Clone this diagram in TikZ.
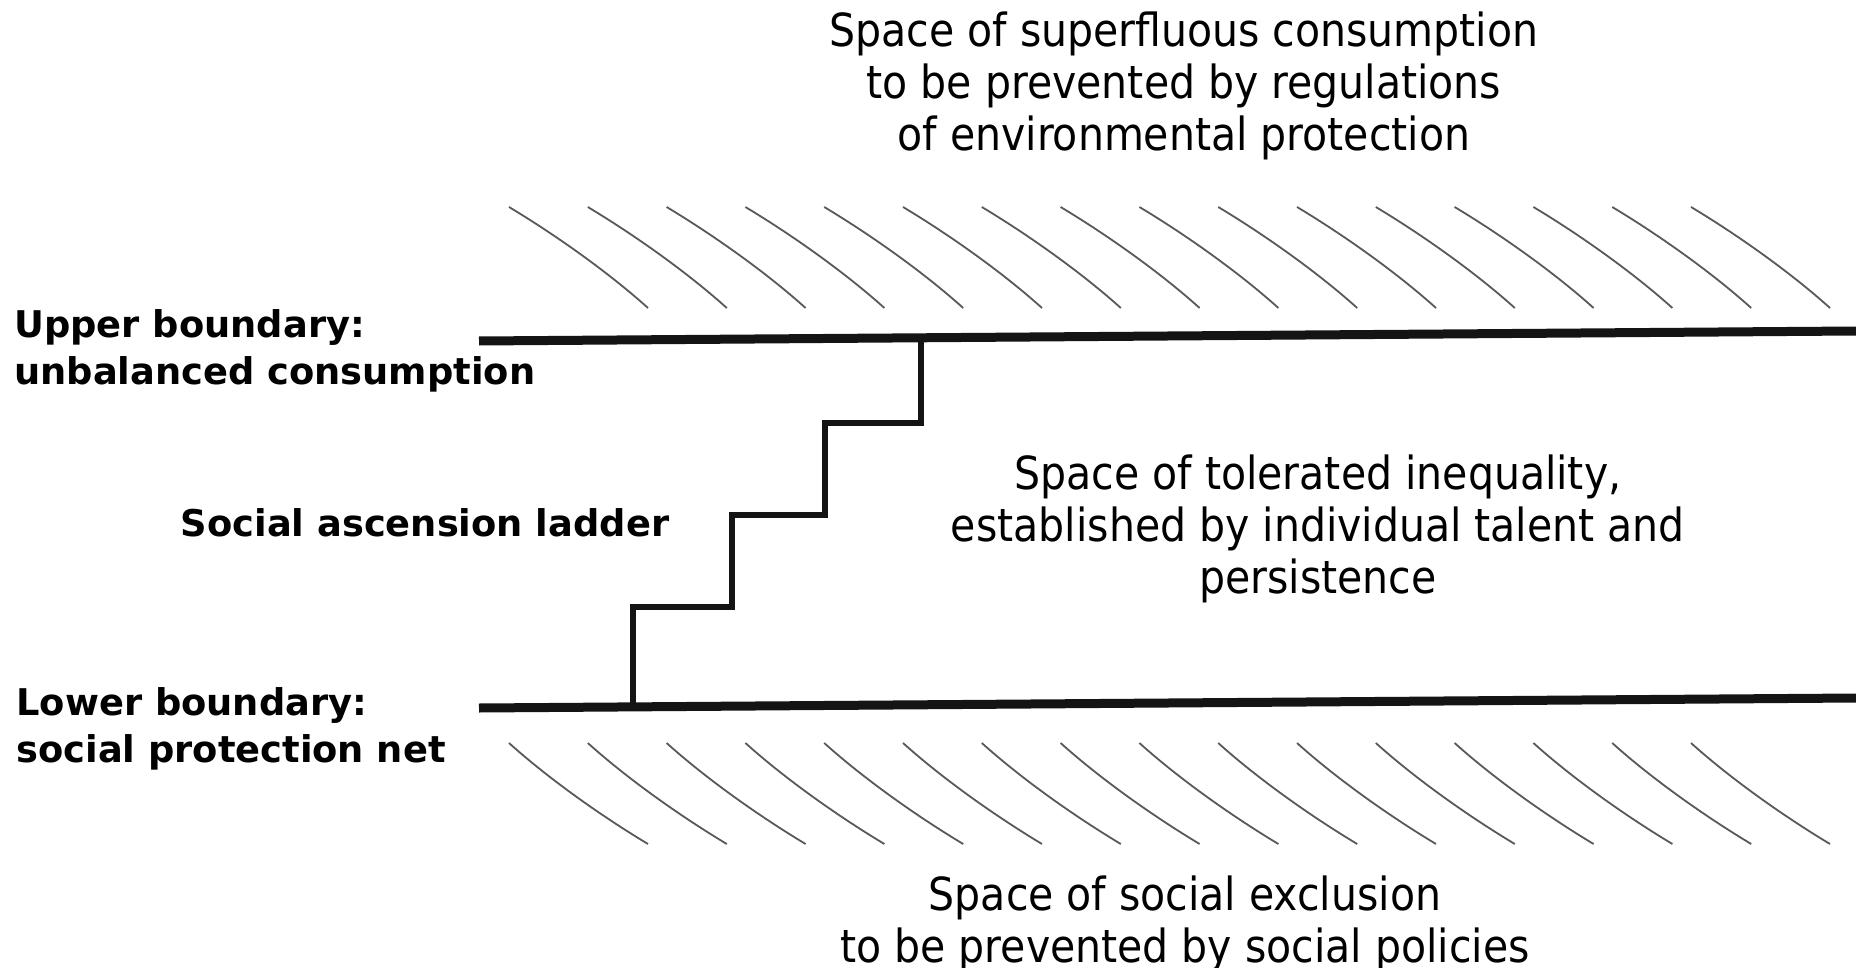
\documentclass[tikz,border=0pt]{standalone}
\usepackage{fontspec}
\setmainfont{DejaVu Sans Condensed}
\newfontfamily\labelfont{DejaVu Sans}
\tikzset{
  boundary/.style={line width=4.5pt, line cap=butt, black!92},
  stairline/.style={line width=3pt, line join=miter, black!92},
  hatchline/.style={line width=0.9pt, black!65},
  regtext/.style={font=\fontsize{22.8pt}{26pt}\selectfont, align=center, inner sep=0pt},
  boldtext/.style={font=\labelfont\bfseries\fontsize{18.4pt}{23.5pt}\selectfont, align=left, inner sep=0pt, anchor=west},
}
\begin{document}
\begin{tikzpicture}[x=0.5pt,y=-0.5pt]
\useasboundingbox (0,0) rectangle (1856,968);
\fill[white] (0,0) rectangle (1856,968);

% boundaries
\coordinate (UL) at (479,341);
\coordinate (UR) at (1856,331);
\coordinate (LL) at (479,708);
\coordinate (LR) at (1856,698);
\draw[boundary] (UL) -- (UR);
\draw[boundary] (LL) -- (LR);

% hatching
\foreach \i in {0,...,15}{
  \pgfmathsetmacro{\hx}{509+78.8*\i}
  \draw[hatchline] (\hx,207) .. controls (\hx+46,234.6) and (\hx+99,272) .. (\hx+139,308);
  \draw[hatchline] (\hx,743) .. controls (\hx+40,779) and (\hx+93,816.4) .. (\hx+139,844);
}

% ladder
\coordinate (S0) at (921,338);
\coordinate (S1) at (633,707);
\draw[stairline] (S0) -- (921,423) -- (825,423) -- (825,515) -- (732,515) -- (732,607) -- (633,607) -- (S1);

% texts
\node[regtext] (top) at (1184,86) {Space of superfluous consumption\\to be prevented by regulations\\of environmental protection};
\node[regtext] (mid) at (1318,529) {Space of tolerated inequality,\\established by individual talent and\\persistence};
\node[regtext] (bot) at (1185,924) {Space of social exclusion\\to be prevented by social policies};
\node[boldtext] (upper) at (14,351) {Upper boundary:\\unbalanced consumption};
\node[boldtext] (lower) at (16,729) {Lower boundary:\\social protection net};
\node[boldtext, anchor=center] (ladder) at (425,523) {Social ascension ladder};
\end{tikzpicture}
\end{document}
